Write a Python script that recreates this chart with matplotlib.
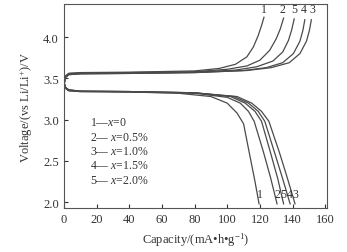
import matplotlib.pyplot as plt

plt.rcParams['font.family'] = ['Liberation Serif', 'DejaVu Serif']
plt.rcParams['mathtext.fontset'] = 'custom'
plt.rcParams['mathtext.rm'] = 'Liberation Serif'
plt.rcParams['mathtext.it'] = 'Liberation Serif:italic'

# charge curves (capacity, voltage)
chg_cap = {
    '1': [0, 1, 3, 10, 40, 80, 95, 105, 112, 116, 119, 121, 122.5],
    '2': [0, 1, 3, 10, 40, 80, 100, 112, 120, 126, 130, 132.5, 134.5],
    '5': [0, 1, 3, 10, 40, 80, 105, 118, 128, 134, 137.5, 139.5, 141],
    '4': [0, 1, 3, 10, 40, 80, 110, 124, 134, 140.5, 144.5, 146.3, 147.5],
    '3': [0, 1, 3, 10, 40, 80, 112, 127, 138, 144.5, 148.5, 150.3, 151.5],
}
chg_v = {
    '1': [3.42, 3.52, 3.56, 3.57, 3.575, 3.59, 3.62, 3.67, 3.76, 3.88, 4.02, 4.14, 4.24],
    '2': [3.43, 3.53, 3.56, 3.565, 3.57, 3.58, 3.61, 3.65, 3.72, 3.84, 3.98, 4.10, 4.23],
    '5': [3.42, 3.52, 3.55, 3.56, 3.565, 3.575, 3.60, 3.64, 3.71, 3.82, 3.96, 4.09, 4.22],
    '4': [3.41, 3.51, 3.545, 3.555, 3.56, 3.57, 3.595, 3.63, 3.69, 3.80, 3.95, 4.08, 4.21],
    '3': [3.41, 3.51, 3.545, 3.555, 3.56, 3.57, 3.595, 3.63, 3.69, 3.80, 3.95, 4.08, 4.21],
}

# discharge curves
dis_cap = {
    '1': [0, 1, 3, 10, 40, 70, 90, 100, 106, 110, 114, 117, 119.5],
    '2': [0, 1, 3, 10, 40, 80, 100, 108, 113, 116.5, 122, 126.5, 130.5],
    '5': [0, 1, 3, 10, 40, 80, 102, 111, 117, 121, 126.5, 131, 134.5],
    '4': [0, 1, 3, 10, 40, 80, 104, 113, 119, 123, 129, 134, 138.5],
    '3': [0, 1, 3, 10, 40, 80, 106, 115, 121, 125.5, 132, 137, 141.5],
}
dis_v = {
    '1': [3.45, 3.38, 3.35, 3.34, 3.335, 3.32, 3.28, 3.20, 3.08, 2.95, 2.55, 2.25, 1.98],
    '2': [3.45, 3.38, 3.35, 3.34, 3.335, 3.32, 3.27, 3.20, 3.10, 2.98, 2.62, 2.30, 1.98],
    '5': [3.46, 3.39, 3.36, 3.345, 3.34, 3.325, 3.28, 3.20, 3.10, 2.98, 2.60, 2.28, 1.98],
    '4': [3.46, 3.39, 3.36, 3.345, 3.34, 3.325, 3.28, 3.20, 3.10, 2.98, 2.60, 2.28, 1.98],
    '3': [3.46, 3.39, 3.36, 3.345, 3.34, 3.325, 3.28, 3.20, 3.10, 2.98, 2.60, 2.28, 1.98],
}

top_label_pos = {'1': 122.5, '2': 134, '5': 141, '4': 147, '3': 152}
bot_label_pos = {'1': 120, '2': 130.5, '5': 134.5, '4': 138.5, '3': 142}

legend_lines = ['1\u2014$x$=0', '2\u2014 $x$=0.5%', '3\u2014 $x$=1.0%',
                '4\u2014 $x$=1.5%', '5\u2014 $x$=2.0%']

fig = plt.figure(figsize=(3.47, 2.53), dpi=100)
ax = fig.add_axes([0.184, 0.174, 0.758, 0.806])

col = '#4a4a4a'
for k in chg_cap:
    ax.plot(chg_cap[k], chg_v[k], color=col, lw=0.9)
    ax.plot(dis_cap[k], dis_v[k], color=col, lw=0.9)
    ax.text(top_label_pos[k], 4.27, k, ha='center', va='bottom', fontsize=8.5, color='#333333')
    ax.text(bot_label_pos[k], 2.03, k, ha='center', va='bottom', fontsize=8.5, color='#333333')

for i, t in enumerate(legend_lines):
    ax.text(16, 2.97 - i * 0.175, t, ha='left', va='center', fontsize=8.5, color='#333333')

ax.set_xlim(0, 161)
ax.set_ylim(1.93, 4.4)
ax.set_xticks([0, 20, 40, 60, 80, 100, 120, 140, 160])
ax.set_yticks([2.0, 2.5, 3.0, 3.5, 4.0])
ax.tick_params(direction='in', labelsize=9, colors='#333333', length=3)
for s in ax.spines.values():
    s.set_color('#555555')
    s.set_linewidth(0.8)
ax.set_xlabel('Capacity/(mA\u2022h\u2022g$^{-1}$)', fontsize=9, color='#333333', labelpad=4)
ax.set_ylabel('Voltage/(vs Li/Li$^{+}$)/V', fontsize=9, color='#333333', labelpad=6)

fig.savefig('out.png', dpi=100)
